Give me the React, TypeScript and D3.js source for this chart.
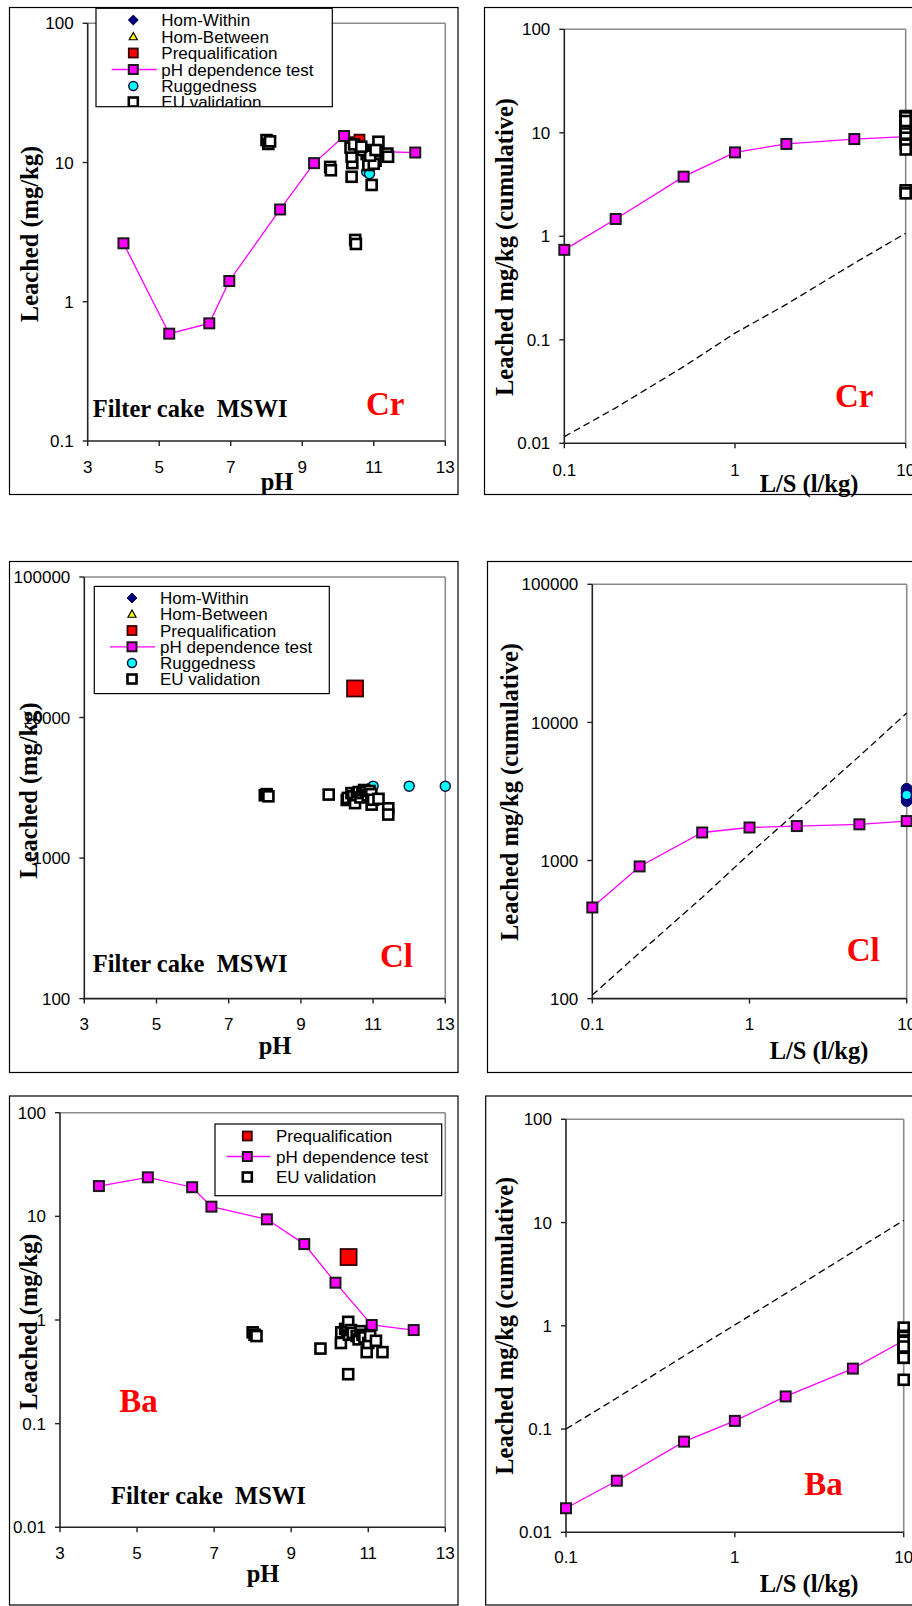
import React from 'react';
import * as d3 from 'd3';

const SANS = "'Liberation Sans', Arial, sans-serif";
const SERIF = "'Liberation Serif', 'Times New Roman', serif";
const MAGENTA = '#FF00FF';

// ---------- shared axes ----------
const PH_TICKS = [3, 5, 7, 9, 11, 13];
const LS_TICKS = [0.1, 1, 10];
const LS_STEPS = [0.1, 0.2, 0.5, 1, 2, 5, 10];
const Y_TICKS_CR_PH = [0.1, 1, 10, 100];
const Y_TICKS_4DEC = [0.01, 0.1, 1, 10, 100];
const Y_TICKS_CL = [100, 1000, 10000, 100000];

// ---------- Cr ----------
const crTestPH = [4.0, 5.28, 6.4, 6.96, 8.38, 9.33, 10.17, 11.1, 12.16];
const crTestVal = [2.63, 0.59, 0.7, 1.41, 4.6, 9.9, 15.5, 12.0, 11.8];
const crPrequalPH = [10.45, 10.6, 10.55];
const crPrequalVal = [14.0, 14.6, 12.6];
const crHomWithinPH = [10.9, 10.95, 11.0];
const crHomWithinVal = [10.5, 11.2, 10.8];
const crHomBetweenPH = [11.0];
const crHomBetweenVal = [11.0];
const crRuggedPH = [10.8, 10.88];
const crRuggedVal = [8.6, 8.3];
const crEuPH = [8.0, 8.05, 8.1, 9.78, 9.8, 10.48, 10.5, 10.38, 10.4, 10.38, 10.35, 10.45, 10.94, 11.13, 11.38, 11.4,
  10.8, 10.85, 10.9, 10.95, 11.0, 11.05, 10.85, 11.0, 10.7, 10.9, 11.05, 10.65];
const crEuVal = [14.5, 13.6, 14.2, 9.3, 8.8, 2.78, 2.6, 7.9, 9.9, 11.0, 12.8, 13.5, 6.9, 14.1, 11.6, 11.0,
  11.5, 10.2, 12.0, 10.8, 11.8, 10.3, 9.6, 9.8, 12.3, 11.2, 12.3, 13.0];
const crLsTest = [0.74, 1.47, 3.77, 6.47, 7.8, 8.7, 9.2];
const crLsRef = [0.0116, 0.022, 0.055, 0.116, 0.22, 0.55, 1.07];

// ---------- Cl ----------
const clPrequalPH = [10.5];
const clPrequalVal = [16100];
const clHomWithinPH = [10.85, 10.9, 10.95];
const clHomWithinVal = [3100, 2950, 3050];
const clRuggedPH = [10.95, 11.0, 12.0, 13.0];
const clRuggedVal = [3100, 3250, 3250, 3250];
const clEuPH = [8.0, 8.05, 8.1, 9.77, 10.27, 10.3, 10.4, 10.45, 10.5, 10.55, 10.6, 10.65, 10.7, 10.75, 10.8, 10.85,
  10.9, 10.95, 10.96, 11.0, 11.15, 11.42, 11.42];
const clEuVal = [2800, 2850, 2750, 2830, 2590, 2680, 2900, 2750, 2460, 2800, 2950, 2700, 2900, 3050, 2950, 2800,
  3000, 2850, 2400, 2600, 2640, 2260, 2040];
const clLsTest = [457, 906, 1595, 1734, 1776, 1828, 1930];
const clLsRef = [106, 215, 540, 1120, 2250, 5700, 11700];
const clLsEndHom = [3300, 3100, 2900, 2700];
const clLsEndRugged = [2980];

// ---------- Ba ----------
const baTestPH = [4.01, 5.28, 6.43, 6.93, 8.37, 9.34, 10.15, 11.09, 12.18];
const baTestVal = [19.6, 23.8, 19.1, 12.4, 9.36, 5.4, 2.29, 0.895, 0.8];
const baPrequalPH = [10.49];
const baPrequalVal = [4.05];
const baEuPH = [8.0, 8.05, 8.1, 9.76, 10.3, 10.29, 10.4, 10.45, 10.48, 10.5, 10.55, 10.6, 10.7, 10.75, 10.8, 10.85,
  10.9, 10.96, 11.0, 11.05, 11.2, 11.37, 10.48];
const baEuVal = [0.76, 0.72, 0.7, 0.53, 0.76, 0.6, 0.82, 0.78, 0.96, 0.72, 0.8, 0.75, 0.7, 0.65, 0.78, 0.72,
  0.68, 0.49, 0.6, 0.7, 0.63, 0.49, 0.3];
const baLsTest = [0.0171, 0.0316, 0.0755, 0.12, 0.207, 0.385, 0.72];
const baLsRef = [0.1, 0.2, 0.51, 1.02, 2.05, 5.2, 10.5];

// ---------- legend labels ----------
const LEGEND_FULL = ['Hom-Within', 'Hom-Between', 'Prequalification', 'pH dependence test', 'Ruggedness', 'EU validation'];
const LEGEND_BA = ['Prequalification', 'pH dependence test', 'EU validation'];

type Shape = 'square' | 'diamond' | 'triangle' | 'circle';
interface Sty { shape: Shape; fill: string; stroke: string; sw: number; size: number }

const ST: Record<string, Sty> = {
  homWithin: { shape: 'diamond', fill: '#000080', stroke: '#000040', sw: 1, size: 11 },
  homBetween: { shape: 'triangle', fill: '#FFFF00', stroke: '#000', sw: 1.2, size: 9 },
  prequal: { shape: 'square', fill: '#FF0000', stroke: '#300', sw: 1.8, size: 10 },
  prequalBig: { shape: 'square', fill: '#FF0000', stroke: '#300', sw: 1.8, size: 16 },
  test: { shape: 'square', fill: MAGENTA, stroke: '#1a1a1a', sw: 2, size: 10 },
  rugged: { shape: 'circle', fill: '#00FFFF', stroke: '#113', sw: 1.5, size: 10 },
  ruggedLs: { shape: 'circle', fill: '#00FFFF', stroke: '#000080', sw: 1.8, size: 10 },
  eu: { shape: 'square', fill: '#FFFFFF', stroke: '#000', sw: 2.6, size: 10 },
  homLs: { shape: 'circle', fill: '#000080', stroke: '#000060', sw: 1, size: 11 },
};

function Marker({ x, y, s, scale = 1 }: { x: number; y: number; s: Sty; scale?: number }) {
  const h = (s.size * scale) / 2;
  if (s.shape === 'square')
    return <rect x={x - h} y={y - h} width={2 * h} height={2 * h} fill={s.fill} stroke={s.stroke} strokeWidth={s.sw} />;
  if (s.shape === 'circle')
    return <circle cx={x} cy={y} r={h} fill={s.fill} stroke={s.stroke} strokeWidth={s.sw} />;
  if (s.shape === 'diamond')
    return <path d={`M${x},${y - h}L${x + h},${y}L${x},${y + h}L${x - h},${y}Z`} fill={s.fill} stroke={s.stroke} strokeWidth={s.sw} />;
  return <path d={`M${x},${y - h}L${x + h},${y + h * 0.8}L${x - h},${y + h * 0.8}Z`} fill={s.fill} stroke={s.stroke} strokeWidth={s.sw} />;
}

interface Layout {
  frame: [number, number, number, number];
  plot: { left: number; right: number; top: number; bottom: number };
  xLog: boolean;
  xDomain: [number, number];
  xTicks: number[];
  yDomain: [number, number];
  yTicks: number[];
  xLabelOff: number;
  yTitle: string;
  yTitlePos: [number, number];
  xTitle: string;
  xTitlePos: [number, number];
}

type Sc = (v: number) => number;

function Panel({ L, children }: { L: Layout; children: (x: Sc, y: Sc) => React.ReactNode }) {
  const p = L.plot;
  const x: any = L.xLog
    ? d3.scaleLog().domain(L.xDomain).range([p.left, p.right])
    : d3.scaleLinear().domain(L.xDomain).range([p.left, p.right]);
  const y: any = d3.scaleLog().domain(L.yDomain).range([p.bottom, p.top]);
  const [fx, fy, fw, fh] = L.frame;
  return (
    <g>
      <rect x={fx} y={fy} width={fw} height={fh} fill="#fff" stroke="#000" strokeWidth={1.2} />
      <line x1={p.left} x2={p.right} y1={p.top} y2={p.top} stroke="#8a8a8a" strokeWidth={1.6} />
      <line x1={p.right} x2={p.right} y1={p.top} y2={p.bottom} stroke="#8a8a8a" strokeWidth={1.6} />
      <line x1={p.left} x2={p.left} y1={p.top} y2={p.bottom + 0.8} stroke="#222" strokeWidth={1.6} />
      <line x1={p.left - 0.8} x2={p.right} y1={p.bottom} y2={p.bottom} stroke="#222" strokeWidth={1.6} />
      {L.yTicks.map((t) => (
        <g key={'y' + t}>
          <line x1={p.left - 5} x2={p.left} y1={y(t)} y2={y(t)} stroke="#222" strokeWidth={1.4} />
          <text x={p.left - 14} y={y(t)} dy="0.36em" textAnchor="end" fontFamily={SANS} fontSize={17} fill="#000">
            {String(t)}
          </text>
        </g>
      ))}
      {L.xTicks.map((t) => (
        <g key={'x' + t}>
          <line x1={x(t)} x2={x(t)} y1={p.bottom} y2={p.bottom + 5} stroke="#222" strokeWidth={1.4} />
          <text x={x(t)} y={p.bottom + L.xLabelOff} dy="0.36em" textAnchor="middle" fontFamily={SANS} fontSize={17} fill="#000">
            {String(t)}
          </text>
        </g>
      ))}
      <text
        transform={`translate(${L.yTitlePos[0]},${L.yTitlePos[1]}) rotate(-90)`}
        textAnchor="middle"
        fontFamily={SERIF}
        fontWeight="bold"
        fontSize={24.5}
        fill="#000"
      >
        {L.yTitle}
      </text>
      <text x={L.xTitlePos[0]} y={L.xTitlePos[1]} textAnchor="middle" fontFamily={SERIF} fontWeight="bold" fontSize={24.5} fill="#000">
        {L.xTitle}
      </text>
      {children(x, y)}
    </g>
  );
}

function Points({ xs, ys, s, x, y }: { xs: number[]; ys: number[]; s: Sty; x: Sc; y: Sc }) {
  return (
    <g>
      {xs.map((v, i) => (
        <Marker key={i} x={x(v)} y={y(ys[i])} s={s} />
      ))}
    </g>
  );
}

function LineSeries({ xs, ys, x, y, dashed }: { xs: number[]; ys: number[]; x: Sc; y: Sc; dashed?: boolean }) {
  const gen = d3.line<number>().x((d) => x(d)).y((_, i) => y(ys[i]));
  return (
    <path
      d={gen(xs) || ''}
      fill="none"
      stroke={dashed ? '#000' : MAGENTA}
      strokeWidth={1.3}
      strokeDasharray={dashed ? '7,4' : undefined}
    />
  );
}

function LegendBox(props: {
  id: string;
  box: [number, number, number, number];
  rows: number[];
  labels: string[];
  styles: Sty[];
  lineIdx: number;
  markerX: number;
  textX: number;
  lineX: [number, number];
}) {
  const [bx, by, bw, bh] = props.box;
  return (
    <g>
      <defs>
        <clipPath id={props.id}>
          <rect x={bx} y={by} width={bw} height={bh} />
        </clipPath>
      </defs>
      <rect x={bx} y={by} width={bw} height={bh} fill="#fff" stroke="none" />
      <g clipPath={`url(#${props.id})`}>
        {props.labels.map((lab, i) => (
          <g key={lab}>
            {i === props.lineIdx && (
              <line x1={props.lineX[0]} x2={props.lineX[1]} y1={props.rows[i]} y2={props.rows[i]} stroke={MAGENTA} strokeWidth={1.3} />
            )}
            <Marker x={props.markerX} y={props.rows[i]} s={props.styles[i]} scale={0.9} />
            <text x={props.textX} y={props.rows[i]} dy="0.36em" fontFamily={SANS} fontSize={17} fill="#000">
              {lab}
            </text>
          </g>
        ))}
      </g>
      <rect x={bx} y={by} width={bw} height={bh} fill="none" stroke="#000" strokeWidth={1.2} />
    </g>
  );
}

function Label({ x, y, text, red }: { x: number; y: number; text: string; red?: boolean }) {
  return (
    <text
      x={x}
      y={y}
      fontFamily={SERIF}
      fontWeight="bold"
      fontSize={red ? 33 : 24.5}
      fill={red ? '#FF0000' : '#000'}
      style={{ whiteSpace: 'pre' }}
    >
      {text}
    </text>
  );
}

const L1: Layout = {
  frame: [9.5, 7.5, 448.5, 487], plot: { left: 87.7, right: 445.3, top: 23.3, bottom: 441 },
  xLog: false, xDomain: [3, 13], xTicks: PH_TICKS, yDomain: [0.1, 100], yTicks: Y_TICKS_CR_PH, xLabelOff: 26,
  yTitle: 'Leached (mg/kg)', yTitlePos: [37.5, 234], xTitle: 'pH', xTitlePos: [277, 490],
};
const L2: Layout = {
  frame: [484.5, 7.5, 440, 487], plot: { left: 564.3, right: 905.7, top: 29.3, bottom: 443.3 },
  xLog: true, xDomain: [0.1, 10], xTicks: LS_TICKS, yDomain: [0.01, 100], yTicks: Y_TICKS_4DEC, xLabelOff: 26.5,
  yTitle: 'Leached mg/kg (cumulative)', yTitlePos: [513, 247], xTitle: 'L/S (l/kg)', xTitlePos: [809, 492],
};
const L3: Layout = {
  frame: [9.5, 561.5, 448.5, 511], plot: { left: 84.3, right: 445.3, top: 577, bottom: 998.6 },
  xLog: false, xDomain: [3, 13], xTicks: PH_TICKS, yDomain: [100, 100000], yTicks: Y_TICKS_CL, xLabelOff: 25,
  yTitle: 'Leached (mg/kg)', yTitlePos: [37.3, 790.5], xTitle: 'pH', xTitlePos: [275, 1054],
};
const L4: Layout = {
  frame: [487.5, 561.5, 440, 511], plot: { left: 592.3, right: 906.7, top: 584.3, bottom: 998.6 },
  xLog: true, xDomain: [0.1, 10], xTicks: LS_TICKS, yDomain: [100, 100000], yTicks: Y_TICKS_CL, xLabelOff: 25,
  yTitle: 'Leached mg/kg (cumulative)', yTitlePos: [518.3, 792], xTitle: 'L/S (l/kg)', xTitlePos: [819, 1059],
};
const L5: Layout = {
  frame: [9.5, 1096, 448.5, 509], plot: { left: 60, right: 445.3, top: 1112.7, bottom: 1527.3 },
  xLog: false, xDomain: [3, 13], xTicks: PH_TICKS, yDomain: [0.01, 100], yTicks: Y_TICKS_4DEC, xLabelOff: 26,
  yTitle: 'Leached (mg/kg)', yTitlePos: [37.3, 1321.7], xTitle: 'pH', xTitlePos: [263, 1581.7],
};
const L6: Layout = {
  frame: [485.7, 1096, 440, 509], plot: { left: 566, right: 903.7, top: 1119.3, bottom: 1532.3 },
  xLog: true, xDomain: [0.1, 10], xTicks: LS_TICKS, yDomain: [0.01, 100], yTicks: Y_TICKS_4DEC, xLabelOff: 24.5,
  yTitle: 'Leached mg/kg (cumulative)', yTitlePos: [513.3, 1325.8], xTitle: 'L/S (l/kg)', xTitlePos: [809, 1591.7],
};

const at10 = (vals: number[]) => vals.map(() => 10);

export default function App() {
  const fullStyles = [ST.homWithin, ST.homBetween, ST.prequal, ST.test, ST.rugged, ST.eu];
  return (
    <svg width={912} height={1606} style={{ position: 'absolute', left: 0, top: 0, background: '#fff' }}>
      <rect x={0} y={0} width={912} height={1606} fill="#fff" />
      {/* Cr vs pH */}
      <Panel L={L1}>
        {(x, y) => (
          <g>
            <Label x={92.7} y={417} text={'Filter cake  MSWI'} />
            <Label x={366} y={415} text="Cr" red />
            <Points xs={crHomWithinPH} ys={crHomWithinVal} s={ST.homWithin} x={x} y={y} />
            <Points xs={crHomBetweenPH} ys={crHomBetweenVal} s={ST.homBetween} x={x} y={y} />
            <Points xs={crPrequalPH} ys={crPrequalVal} s={ST.prequal} x={x} y={y} />
            <LineSeries xs={crTestPH} ys={crTestVal} x={x} y={y} />
            <Points xs={crTestPH} ys={crTestVal} s={ST.test} x={x} y={y} />
            <Points xs={crRuggedPH} ys={crRuggedVal} s={ST.rugged} x={x} y={y} />
            <Points xs={crEuPH} ys={crEuVal} s={ST.eu} x={x} y={y} />
            <LegendBox id="lg1" box={[96, 8.3, 236.3, 98.4]} rows={[20, 36.5, 53, 69.5, 86, 102]} labels={LEGEND_FULL}
              styles={fullStyles} lineIdx={3} markerX={133.3} textX={161.3} lineX={[111.7, 156.7]} />
          </g>
        )}
      </Panel>
      {/* Cr vs L/S */}
      <Panel L={L2}>
        {(x, y) => (
          <g>
            <Label x={835} y={406.7} text="Cr" red />
            <LineSeries xs={LS_STEPS} ys={crLsRef} x={x} y={y} dashed />
            <LineSeries xs={LS_STEPS} ys={crLsTest} x={x} y={y} />
            <Points xs={LS_STEPS} ys={crLsTest} s={ST.test} x={x} y={y} />
            <Points xs={at10(crHomWithinVal)} ys={crHomWithinVal} s={ST.homWithin} x={x} y={y} />
            <Points xs={at10(crPrequalVal)} ys={crPrequalVal} s={ST.prequal} x={x} y={y} />
            <Points xs={at10(crEuVal)} ys={crEuVal} s={ST.eu} x={x} y={y} />
          </g>
        )}
      </Panel>
      {/* Cl vs pH */}
      <Panel L={L3}>
        {(x, y) => (
          <g>
            <Label x={92.7} y={971.8} text={'Filter cake  MSWI'} />
            <Label x={380} y={967} text="Cl" red />
            <Points xs={clHomWithinPH} ys={clHomWithinVal} s={ST.homWithin} x={x} y={y} />
            <Points xs={clPrequalPH} ys={clPrequalVal} s={ST.prequalBig} x={x} y={y} />
            <Points xs={clRuggedPH} ys={clRuggedVal} s={ST.rugged} x={x} y={y} />
            <Points xs={clEuPH} ys={clEuVal} s={ST.eu} x={x} y={y} />
            <LegendBox id="lg3" box={[94.3, 586.4, 235, 107.2]} rows={[598, 614, 630.5, 646.8, 663, 679]} labels={LEGEND_FULL}
              styles={fullStyles} lineIdx={3} markerX={132} textX={160} lineX={[110, 155]} />
          </g>
        )}
      </Panel>
      {/* Cl vs L/S */}
      <Panel L={L4}>
        {(x, y) => (
          <g>
            <Label x={846.7} y={961} text="Cl" red />
            <LineSeries xs={LS_STEPS} ys={clLsRef} x={x} y={y} dashed />
            <LineSeries xs={LS_STEPS} ys={clLsTest} x={x} y={y} />
            <Points xs={LS_STEPS} ys={clLsTest} s={ST.test} x={x} y={y} />
            <Points xs={at10(clLsEndHom)} ys={clLsEndHom} s={ST.homLs} x={x} y={y} />
            <Points xs={at10(clLsEndRugged)} ys={clLsEndRugged} s={ST.ruggedLs} x={x} y={y} />
          </g>
        )}
      </Panel>
      {/* Ba vs pH */}
      <Panel L={L5}>
        {(x, y) => (
          <g>
            <Label x={111} y={1504} text={'Filter cake  MSWI'} />
            <Label x={119.3} y={1411.7} text="Ba" red />
            <Points xs={baPrequalPH} ys={baPrequalVal} s={ST.prequalBig} x={x} y={y} />
            <LineSeries xs={baTestPH} ys={baTestVal} x={x} y={y} />
            <Points xs={baTestPH} ys={baTestVal} s={ST.test} x={x} y={y} />
            <Points xs={baEuPH} ys={baEuVal} s={ST.eu} x={x} y={y} />
            <LegendBox id="lg5" box={[215, 1124, 226.7, 71.7]} rows={[1136, 1156.5, 1177]} labels={LEGEND_BA}
              styles={[ST.prequal, ST.test, ST.eu]} lineIdx={1} markerX={247.3} textX={276} lineX={[226.7, 270]} />
          </g>
        )}
      </Panel>
      {/* Ba vs L/S */}
      <Panel L={L6}>
        {(x, y) => (
          <g>
            <Label x={804.3} y={1495} text="Ba" red />
            <LineSeries xs={LS_STEPS} ys={baLsRef} x={x} y={y} dashed />
            <LineSeries xs={LS_STEPS} ys={baLsTest} x={x} y={y} />
            <Points xs={LS_STEPS} ys={baLsTest} s={ST.test} x={x} y={y} />
            <Points xs={at10(baEuVal)} ys={baEuVal} s={ST.eu} x={x} y={y} />
          </g>
        )}
      </Panel>
    </svg>
  );
}
